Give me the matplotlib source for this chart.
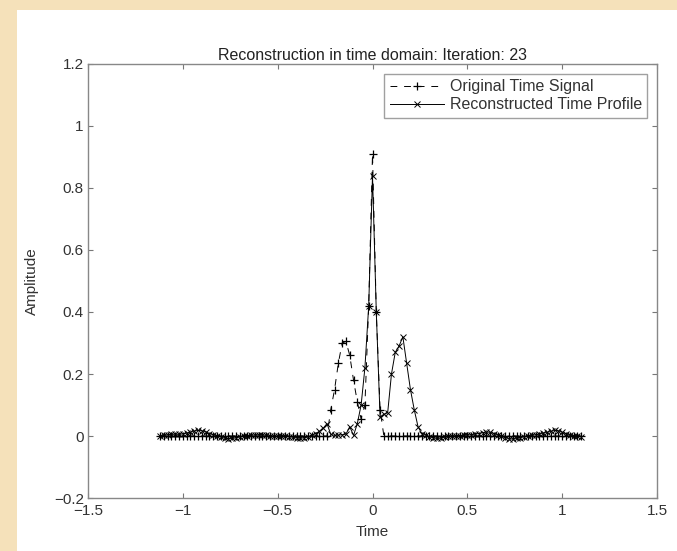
import numpy as np
import matplotlib
matplotlib.use("Agg")
import matplotlib.pyplot as plt
from matplotlib.patches import Rectangle
from matplotlib.ticker import FuncFormatter

plt.rcParams['font.family'] = ['Liberation Sans', 'DejaVu Sans']

# sample times (uniform grid, 0.02 step)
time = np.linspace(-1.12, 1.10, 112)

# original time signal: zero except around the centre
original = ([0.0] * 45
            + [0.085, 0.150, 0.235, 0.300, 0.305, 0.260, 0.180, 0.110, 0.055,
               0.100, 0.420, 0.910, 0.400, 0.085]
            + [0.0] * 53)

# reconstructed time profile
reconstructed = [
    0.000, 0.002, 0.004, 0.005, 0.006, 0.005, 0.007, 0.009, 0.012, 0.016,
    0.018, 0.017, 0.013, 0.008, 0.004, 0.001, -0.003, -0.007, -0.009, -0.008,
    -0.006, -0.003, 0.000, 0.001, 0.002, 0.003, 0.004, 0.003, 0.002, 0.000,
    -0.001, 0.000, 0.001, 0.000, -0.002, -0.004, -0.006, -0.007, -0.006, -0.003,
    0.002, 0.008, 0.015, 0.025, 0.040, 0.005, 0.002, 0.003, 0.004, 0.006,
    0.030, 0.002, 0.040, 0.100, 0.220, 0.420, 0.840, 0.400, 0.060, 0.070,
    0.075, 0.200, 0.270, 0.290, 0.320, 0.235, 0.150, 0.085, 0.030, 0.008,
    0.003, -0.002, -0.006, -0.008, -0.007, -0.004, -0.001, 0.000, 0.001, 0.001,
    0.002, 0.003, 0.004, 0.006, 0.008, 0.011, 0.013, 0.012, 0.008, 0.003,
    -0.001, -0.005, -0.009, -0.010, -0.008, -0.005, -0.002, 0.000, 0.002, 0.004,
    0.006, 0.009, 0.012, 0.015, 0.018, 0.017, 0.012, 0.007, 0.003, 0.001,
    0.000, -0.002,
]

xticks = [-1.5, -1, -0.5, 0, 0.5, 1, 1.5]
yticks = [-0.2, 0, 0.2, 0.4, 0.6, 0.8, 1, 1.2]

fig = plt.figure(figsize=(6.77, 5.51), dpi=100)
fig.patch.set_facecolor('#F5E1BA')
# white figure area on the parchment background
fig.add_artist(Rectangle((17 / 677, 0), 1, 1 - 10 / 551,
                         transform=fig.transFigure, facecolor='white',
                         edgecolor='none', zorder=-10))

ax = fig.add_axes([88 / 677, 53 / 551, 569 / 677, 434 / 551])
ax.set_zorder(1)
ax.plot(time, original, linestyle=(0, (7, 7)), marker='+', color='black',
        lw=0.7, ms=6, mew=0.9, label='Original Time Signal')
ax.plot(time, reconstructed, '-x', color='black', lw=0.7, ms=4.5, mew=0.7,
        label='Reconstructed Time Profile')

ax.set_xlim(-1.5, 1.5)
ax.set_ylim(-0.2, 1.2)
ax.set_xticks(xticks)
ax.set_yticks(yticks)
fmt = FuncFormatter(lambda v, p: ('%g' % v).replace('-', '\u2212'))
ax.xaxis.set_major_formatter(fmt)
ax.yaxis.set_major_formatter(fmt)
ax.tick_params(direction='in', top=True, right=True, length=3.5, width=0.8,
               color='#777777', labelsize=11, labelcolor='#333333')
ax.tick_params(axis='x', pad=4.5)
ax.tick_params(axis='y', pad=3)
for s in ax.spines.values():
    s.set_color('#888888')
    s.set_linewidth(1.0)

ax.set_title('Reconstruction in time domain: Iteration: 23', fontsize=11.5,
             color='#222222', pad=3)
ax.set_xlabel('Time', fontsize=11, color='#333333', labelpad=5)
ax.set_ylabel('Amplitude', fontsize=11, color='#333333', labelpad=11)

leg = ax.legend(loc='upper right', fontsize=11.5, frameon=True, fancybox=False,
                edgecolor='#888888', borderaxespad=0.6, handlelength=3.4,
                handletextpad=0.35, borderpad=0.35, labelspacing=0.2,
                numpoints=1)
leg.get_frame().set_linewidth(1.0)
for t in leg.get_texts():
    t.set_color('#333333')

fig.savefig('out.png', dpi=100, facecolor=fig.get_facecolor())
